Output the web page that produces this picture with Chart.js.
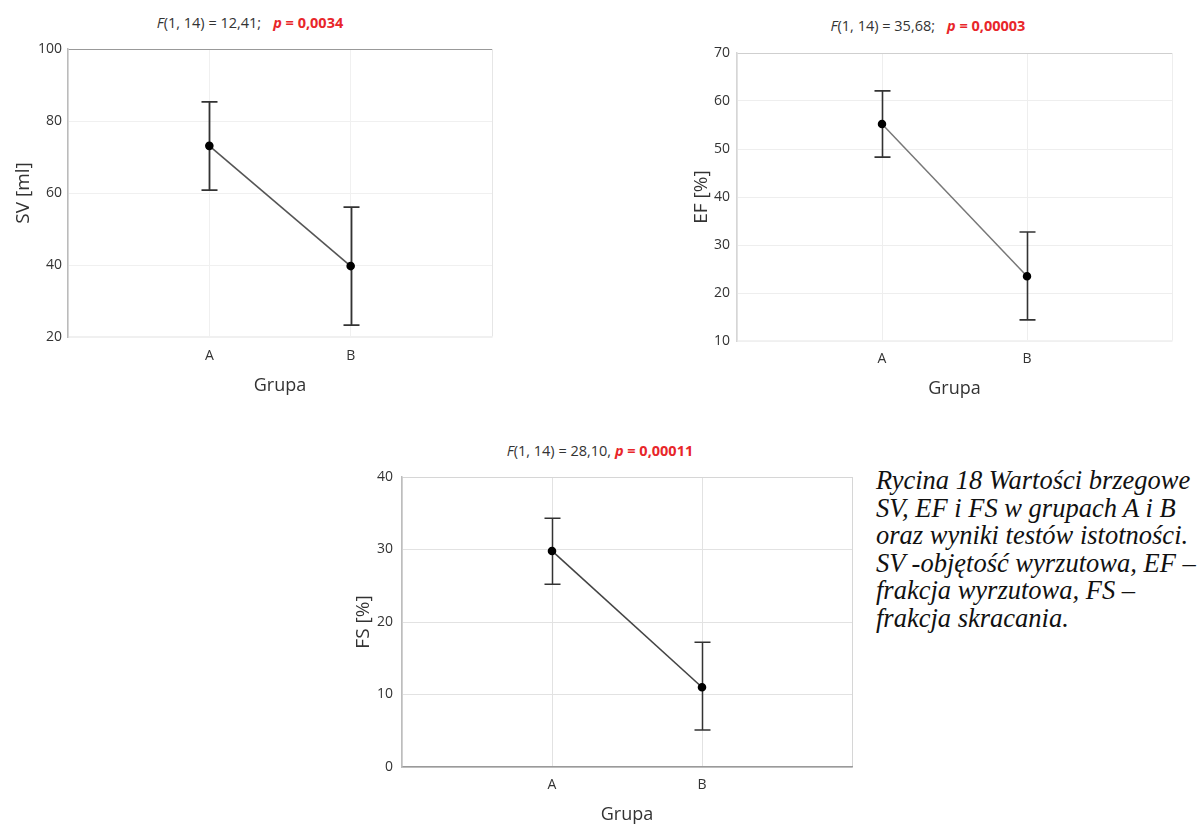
<!DOCTYPE html>
<html>
<head>
<meta charset="utf-8">
<script src="https://cdn.jsdelivr.net/npm/chart.js@4.4.4/dist/chart.umd.min.js"></script>
<style>
  html, body { margin:0; padding:0; background:#fff; width:1198px; height:825px; overflow:hidden; }
  .wrap { position:absolute; }
  .ttl { position:absolute; font-family:"Open Sans", sans-serif; font-size:14.5px; color:#333; white-space:nowrap; transform:translateX(-50%); }
  .ttl i { font-style:italic; }
  .ttl b { color:#e8262a; font-weight:700; margin-left:12px; }
  .ttl b i { font-style:italic; }
  .caption { position:absolute; left:876px; top:467px; font-family:"Liberation Serif", "Times New Roman", serif; font-style:italic; font-size:26.5px; line-height:27.5px; color:#111; white-space:nowrap; }
</style>
</head>
<body>

<div class="ttl" style="left:250px; top:13px"><i>F</i>(1, 14) = 12,41;<b><i>p</i> = 0,0034</b></div>
<div class="ttl" style="left:928px; top:16px"><i>F</i>(1, 14) = 35,68;<b><i>p</i> = 0,00003</b></div>
<div class="ttl" style="left:600px; top:441px"><i>F</i>(1, 14) = 28,10, <b style="margin-left:0"><i>p</i> = 0,00011</b></div>

<div class="wrap" style="left:0; top:0; width:520px; height:400px"><canvas id="c-sv"></canvas></div>
<div class="wrap" style="left:640px; top:0; width:558px; height:400px"><canvas id="c-ef"></canvas></div>
<div class="wrap" style="left:330px; top:430px; width:540px; height:396px"><canvas id="c-fs"></canvas></div>

<div class="caption">Rycina 18 Wartości brzegowe<br>SV, EF i FS w grupach A i B<br>oraz wyniki testów istotności.<br>SV -objętość wyrzutowa, EF –<br>frakcja wyrzutowa, FS –<br>frakcja skracania.</div>

<script>
// groups on the x axis
const groups = ['A', 'B'];

// SV [ml]
const svMean = [73.1, 39.7];
const svLow  = [60.8, 23.3];
const svHigh = [85.3, 56.1];

// EF [%]
const efMean = [55.2, 23.5];
const efLow  = [48.3, 14.4];
const efHigh = [62.1, 32.7];

// FS [%]
const fsMean = [29.8, 11.0];
const fsLow  = [25.2, 5.1];
const fsHigh = [34.3, 17.2];

const FONT = '"Open Sans", sans-serif';

// error bars drawn through the chart scales
const errorBars = {
  id: 'errorBars',
  beforeDatasetsDraw(chart, args, opts) {
    const { ctx, scales: { x, y } } = chart;
    ctx.save();
    ctx.strokeStyle = opts.color;
    ctx.lineWidth = opts.width;
    opts.low.forEach((lo, i) => {
      const px = Math.round(x.getPixelForValue(i + 1)) + 0.5;
      const top = y.getPixelForValue(opts.high[i]);
      const bot = y.getPixelForValue(lo);
      ctx.beginPath();
      ctx.moveTo(px, top); ctx.lineTo(px, bot);
      ctx.moveTo(px - opts.cap, top); ctx.lineTo(px + opts.cap, top);
      ctx.moveTo(px - opts.cap, bot); ctx.lineTo(px + opts.cap, bot);
      ctx.stroke();
    });
    ctx.restore();
  }
};

function makeChart(id, cfg) {
  const pts = cfg.mean.map((v, i) => ({ x: i + 1, y: v }));
  return new Chart(document.getElementById(id), {
    type: 'line',
    data: {
      datasets: [{
        data: pts,
        borderColor: cfg.lineColor,
        borderWidth: cfg.lineWidth,
        pointRadius: 3.5,
        pointBackgroundColor: '#000',
        pointBorderColor: '#000',
        tension: 0,
      }]
    },
    options: {
      responsive: true, maintainAspectRatio: false, animation: false,
      events: [],
      layout: { padding: cfg.padding },
      plugins: {
        legend: { display: false },
        tooltip: { enabled: false },
        errorBars: { low: cfg.low, high: cfg.high, color: '#333', width: cfg.barWidth, cap: 8 },
      },
      scales: {
        x: {
          type: 'linear', min: 0, max: groups.length + 1,
          afterBuildTicks: s => { s.ticks = [0, 1, 2, 3].map(v => ({ value: v })); },
          afterFit: s => { s.height = cfg.xHeight; },
          ticks: {
            padding: cfg.xTickPad, color: '#333', font: { family: FONT, size: 14 },
            callback: v => groups[v - 1] || '',
            autoSkip: false, maxRotation: 0,
          },
          grid: {
            drawTicks: false,
            color: c => (c.tick && c.tick.value === 3) ? cfg.rightColor : cfg.gridColor,
          },
          border: { display: true, color: cfg.bottomColor, width: 1.5 },
          title: { display: true, text: 'Grupa', color: '#333', font: { family: FONT, size: 18 }, padding: { top: 0, bottom: cfg.xTitlePad } },
        },
        y: {
          min: cfg.yMin, max: cfg.yMax,
          afterFit: s => { s.width = cfg.yWidth; },
          ticks: { stepSize: cfg.step, padding: cfg.yTickPad, color: '#333', font: { family: FONT, size: 14 } },
          grid: {
            drawTicks: false,
            color: c => (c.tick && c.tick.value === cfg.yMax) ? cfg.topColor : cfg.gridColor,
          },
          border: { display: true, color: cfg.leftColor, width: 1.5 },
          title: { display: true, text: cfg.yTitle, color: '#333', font: { family: FONT, size: 19 }, padding: { top: cfg.yTitlePad, bottom: 0 } },
        },
      },
    },
    plugins: [errorBars],
  });
}

makeChart('c-sv', {
  mean: svMean, low: svLow, high: svHigh,
  yMin: 20, yMax: 100, step: 20, yTitle: 'SV [ml]',
  padding: { left: 0, top: 49, right: 28, bottom: 0 },
  yWidth: 68, xHeight: 63, xTickPad: 11, yTickPad: 6, xTitlePad: 3, yTitlePad: 12,
  gridColor: '#f0f0f0', topColor: '#999', rightColor: '#e6e6e6', leftColor: '#bbb', bottomColor: '#f0f0f0',
  lineColor: '#555', lineWidth: 1.6, barWidth: 1.8,
});

makeChart('c-ef', {
  mean: efMean, low: efLow, high: efHigh,
  yMin: 10, yMax: 70, step: 10, yTitle: 'EF [%]',
  padding: { left: 0, top: 53, right: 26, bottom: 0 },
  yWidth: 97, xHeight: 59, xTickPad: 10, yTickPad: 7, xTitlePad: 0, yTitlePad: 50,
  gridColor: '#eeeeee', topColor: '#cfcfcf', rightColor: '#eeeeee', leftColor: '#d6d6d6', bottomColor: '#f2f2f2',
  lineColor: '#777', lineWidth: 1.5, barWidth: 1.6,
});

makeChart('c-fs', {
  mean: fsMean, low: fsLow, high: fsHigh,
  yMin: 0, yMax: 40, step: 10, yTitle: 'FS [%]',
  padding: { left: 0, top: 47, right: 18, bottom: 0 },
  yWidth: 72, xHeight: 59, xTickPad: 10, yTickPad: 9, xTitlePad: 0, yTitlePad: 22,
  gridColor: '#e2e2e2', topColor: '#d6d6d6', rightColor: '#d6d6d6', leftColor: '#bdbdbd', bottomColor: '#9a9a9a',
  lineColor: '#444', lineWidth: 1.6, barWidth: 1.5,
});
</script>
</body>
</html>
